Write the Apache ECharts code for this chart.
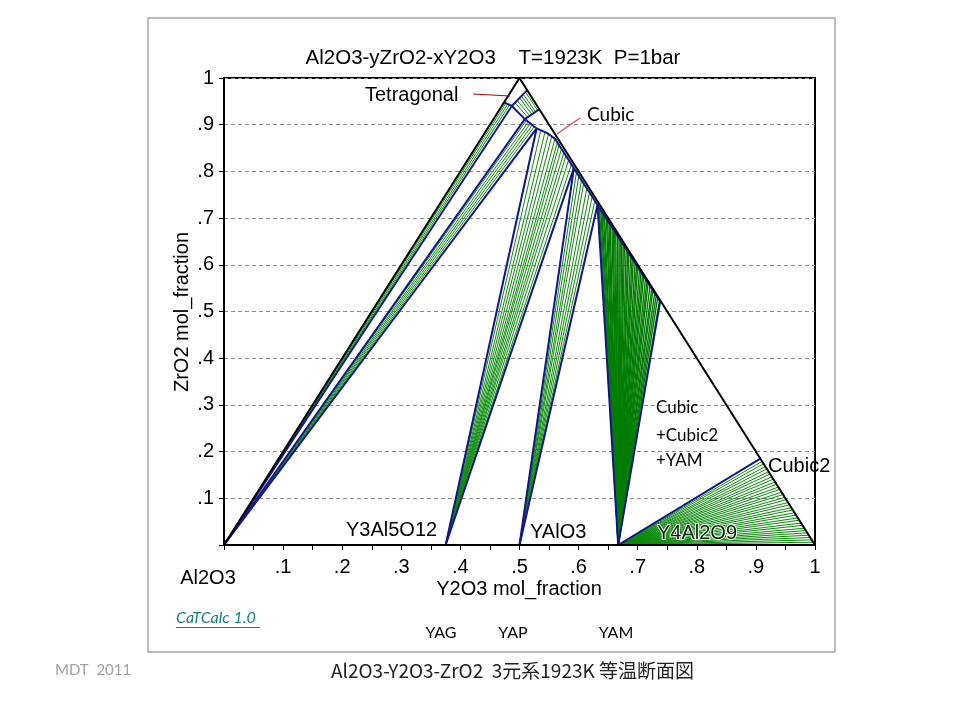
<!DOCTYPE html>
<html>
<head>
<meta charset="utf-8">
<script src="https://cdn.jsdelivr.net/npm/echarts@6/dist/echarts.min.js"></script>
<style>html,body{margin:0;background:#fff}#chart{width:960px;height:720px}</style>
</head>
<body>
<div id="chart"></div>
<script>
// points are compositions [Y2O3, ZrO2] in mol fraction (Al2O3 = rest)
const triangle = [[0, 0], [0, 1], [1, 0], [0, 0]];
const AL2O3 = [0, 0];
const YAG = [0.375, 0];
const YAP = [0.5, 0];
const YAM = [0.667, 0];

// phase boundaries (blue)
const tetBoundary = [[0.026, 0.974], [0.017, 0.940], [0, 0.948]];
const tieTriangle = [[0.017, 0.940], [0.053, 0.912]];
const cubicBoundary = [[0.067, 0.933], [0.053, 0.912], [0.083, 0.892], [0.106, 0.882], [0.125, 0.870],
  [0.1885, 0.807], [0.268, 0.728], [0.4775, 0.521]];
const cubic2Point = [0.815, 0.185];

// tie line ends (green)
const alTetEnds = [[0.004, 0.946], [0.008, 0.944], [0.012, 0.942]];
const alCubicEnds = [[0.053, 0.912], [0.057, 0.909], [0.062, 0.906], [0.067, 0.903], [0.072, 0.899], [0.077, 0.896], [0.083, 0.892]];
const tetCubicTies = [
  [[0.025, 0.970], [0.066, 0.930]], [[0.024, 0.965], [0.064, 0.927]], [[0.023, 0.961], [0.063, 0.924]],
  [[0.022, 0.957], [0.061, 0.921]], [[0.020, 0.952], [0.059, 0.918]], [[0.019, 0.947], [0.057, 0.915]]
];
const yagEnds = [[0.083, 0.892], [0.092, 0.888], [0.101, 0.884], [0.109, 0.880], [0.117, 0.875], [0.125, 0.870],
  [0.133, 0.862], [0.139, 0.856], [0.147, 0.848], [0.155, 0.840], [0.162, 0.833], [0.171, 0.824], [0.180, 0.816], [0.1885, 0.807]];
const yapEnds = [[0.1885, 0.807], [0.197, 0.799], [0.205, 0.791], [0.214, 0.782], [0.222, 0.773], [0.232, 0.764],
  [0.241, 0.755], [0.250, 0.746], [0.259, 0.737], [0.268, 0.728]];
const yamZr = [0.728, 0.724, 0.719, 0.715, 0.710, 0.706, 0.700, 0.696, 0.691, 0.687, 0.681, 0.677, 0.672, 0.668,
  0.662, 0.657, 0.653, 0.648, 0.643, 0.639, 0.633, 0.628, 0.624, 0.618, 0.613, 0.609, 0.603, 0.598, 0.594,
  0.588, 0.583, 0.578, 0.574, 0.568, 0.563, 0.559, 0.553, 0.547, 0.543, 0.537, 0.532, 0.527, 0.521];
const yamC2Zr = [0.185, 0.179, 0.174, 0.168, 0.163, 0.157, 0.152, 0.146, 0.141, 0.135, 0.130, 0.124, 0.119,
  0.113, 0.108, 0.102, 0.097, 0.091, 0.086, 0.080, 0.075, 0.069, 0.064, 0.058, 0.053, 0.047, 0.042, 0.036,
  0.031, 0.026, 0.021, 0.016, 0.011, 0.006];

// pointer lines, plot coordinates
const tetPointer = [[0.4213, 0.9657], [0.4839, 0.9615]];
const cubicPointer = [[0.5635, 0.880], [0.6024, 0.9143]];

const yTicks = ['', '.1', '.2', '.3', '.4', '.5', '.6', '.7', '.8', '.9', '1'];

// ternary -> plot: x = Y2O3 + ZrO2/2
const toXY = p => [p[0] + p[1] / 2, p[1]];
const fan = (origin, ends) => ends.map(e => ({ coords: [toXY(origin), toXY(e)] }));

const greenTies = [].concat(
  fan(AL2O3, alTetEnds),
  fan(AL2O3, alCubicEnds),
  tetCubicTies.map(t => ({ coords: t.map(toXY) })),
  fan(YAG, yagEnds),
  fan(YAP, yapEnds),
  fan(YAM, yamC2Zr.map(z => [1 - z, z]))
);
const yamTies = fan(YAM, yamZr.map(z => [1 - z - 0.003, z]));

const blueLines = [
  tetBoundary, tieTriangle, cubicBoundary,
  [AL2O3, tieTriangle[0]], [AL2O3, cubicBoundary[1]], [AL2O3, cubicBoundary[2]],
  [YAG, cubicBoundary[2]], [YAG, cubicBoundary[5]],
  [YAP, cubicBoundary[5]], [YAP, cubicBoundary[6]],
  [YAM, cubicBoundary[6]], [YAM, cubicBoundary[7]],
  [YAM, cubic2Point]
].map(l => ({ coords: l.map(toXY) }));

const ARIAL = '"Liberation Sans", Arial, sans-serif';
const CAL = 'Lato, "Open Sans", sans-serif';
const txt = (text, x, y, font, extra, rot) => ({
  type: 'text', x, y, z: 100, rotation: rot || 0, silent: true,
  style: Object.assign({ text, font, fill: '#000', align: 'left', verticalAlign: 'middle' }, extra || {})
});

const chart = echarts.init(document.getElementById('chart'));
chart.setOption({
  animation: false,
  backgroundColor: '#fff',
  grid: { left: 224, right: 145, top: 78, bottom: 175, show: true, borderColor: '#000', borderWidth: 2 },
  xAxis: {
    type: 'value', min: 0, max: 1, interval: 0.1,
    axisLine: { lineStyle: { color: '#000', width: 2 } },
    axisTick: { length: 5, lineStyle: { color: '#000' } },
    minorTick: { show: true, splitNumber: 2, length: 5, lineStyle: { color: '#000' } },
    axisLabel: { margin: 12, color: '#000', fontSize: 20, fontFamily: ARIAL,
      formatter: v => yTicks[Math.round(v * 10)] },
    splitLine: { show: false }
  },
  yAxis: {
    type: 'value', min: 0, max: 1, interval: 0.1,
    axisLine: { lineStyle: { color: '#000', width: 2 } },
    axisTick: { length: 5, lineStyle: { color: '#000' } },
    axisLabel: { margin: 10, color: '#000', fontSize: 20, fontFamily: ARIAL,
      formatter: v => yTicks[Math.round(v * 10)] },
    splitLine: { lineStyle: { color: '#8c8c8c', type: [4, 3], width: 1 } }
  },
  series: [
    { type: 'lines', coordinateSystem: 'cartesian2d', silent: true, data: greenTies,
      lineStyle: { color: '#0a8a0a', width: 1, opacity: 1 } },
    { type: 'lines', coordinateSystem: 'cartesian2d', silent: true, data: yamTies,
      lineStyle: { color: '#007d00', width: 1.4, opacity: 1 } },
    { type: 'lines', coordinateSystem: 'cartesian2d', polyline: true, silent: true, data: blueLines,
      lineStyle: { color: '#16168c', width: 2, opacity: 1 } },
    { type: 'lines', coordinateSystem: 'cartesian2d', polyline: true, silent: true,
      data: [{ coords: triangle.map(toXY) }], lineStyle: { color: '#000', width: 2, opacity: 1 } },
    { type: 'lines', coordinateSystem: 'cartesian2d', silent: true,
      data: [{ coords: tetPointer, lineStyle: { color: '#c00000' } }, { coords: cubicPointer, lineStyle: { color: '#e04848' } }],
      lineStyle: { width: 1.2, opacity: 1 } }
  ],
  graphic: [
    { type: 'rect', silent: true, shape: { x: 148, y: 18, width: 687, height: 634 },
      style: { fill: 'none', stroke: '#a6a6a6', lineWidth: 1.5 }, z: -10 },
    txt('Al2O3-yZrO2-xY2O3    T=1923K  P=1bar', 493, 58, '20.5px ' + ARIAL, { align: 'center' }),
    txt('ZrO2 mol_fraction', 182, 312, '20px ' + ARIAL, { align: 'center' }, Math.PI / 2),
    txt('Y2O3 mol_fraction', 519, 589, '20px ' + ARIAL, { align: 'center' }),
    txt('Al2O3', 208, 578, '20px ' + ARIAL, { align: 'center' }),
    txt('Tetragonal', 365, 95, '20px ' + ARIAL),
    txt('Cubic', 587, 115, '19px ' + CAL),
    txt('Y3Al5O12', 346, 530, '20px ' + ARIAL),
    txt('YAlO3', 530, 532, '20px ' + ARIAL),
    txt('Y4Al2O9', 657, 533, '20px ' + ARIAL, { fill: '#0c1f0c', stroke: '#f4fff4', lineWidth: 2, strokeFirst: true }),
    txt('Cubic2', 768, 466, '20px ' + ARIAL),
    txt('Cubic', 656, 408, '17px ' + CAL),
    txt('+Cubic2', 656, 436, '17px ' + CAL),
    txt('+YAM', 656, 461, '17px ' + CAL),
    txt('CaTCalc 1.0', 176, 618, 'italic 16px ' + CAL, { fill: '#17807e' }),
    { type: 'rect', silent: true, shape: { x: 176, y: 627, width: 84, height: 1 }, style: { fill: '#17807e' } },
    txt('YAG', 441, 633, '16px ' + CAL, { align: 'center' }),
    txt('YAP', 513, 633, '16px ' + CAL, { align: 'center' }),
    txt('YAM', 616, 633, '16px ' + CAL, { align: 'center' }),
    txt('MDT  2011', 55, 670, '15px ' + CAL, { fill: '#a0a0a0' }),
    txt('Al2O3-Y2O3-ZrO2  3元系1923K 等温断面図', 331, 671, '19px "Noto Sans CJK JP", sans-serif', { fill: '#222' })
  ]
});
</script>
</body>
</html>
